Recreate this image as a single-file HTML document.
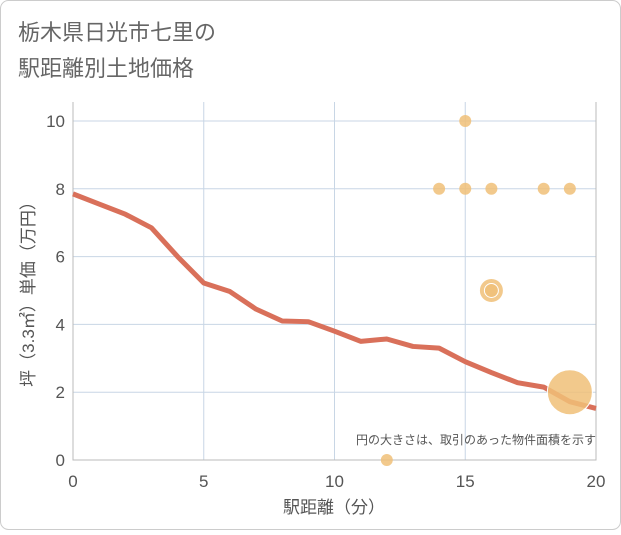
<!DOCTYPE html>
<html><head><meta charset="utf-8"><style>
body{margin:0;background:#fff;font-family:"Liberation Sans","Noto Sans CJK JP",sans-serif}
svg text{font-family:"Liberation Sans","Noto Sans CJK JP",sans-serif}
</style></head><body>
<svg id="c" width="621" height="530" xmlns="http://www.w3.org/2000/svg">
<rect x="0.5" y="0.5" width="620" height="529" rx="8" fill="#fff" stroke="#ccc"/>
<text x="18" y="40" font-size="22" fill="#666">栃木県日光市七里の</text>
<text x="18" y="76" font-size="22" fill="#666">駅距離別土地価格</text>
<g id="grid"></g>
<g id="marks"></g>
<text x="596" y="444" font-size="12" fill="#555" text-anchor="end">円の大きさは、取引のあった物件面積を示す</text>
<text x="334" y="513" font-size="17" fill="#555" text-anchor="middle">駅距離（分）</text>
<text transform="translate(34,290) rotate(-90)" font-size="17" fill="#555" text-anchor="middle">坪（3.3㎡）単価（万円）</text>
</svg>
<script>
const xTicks=[0,5,10,15,20];
const yTicks=[0,2,4,6,8,10];
const lineX=[0,1,2,3,4,5,6,7,8,9,10,11,12,13,14,15,16,17,18,19,20];
const lineY=[7.85,7.55,7.25,6.85,6.0,5.22,4.97,4.45,4.1,4.08,3.8,3.5,3.57,3.35,3.3,2.9,2.58,2.28,2.15,1.72,1.52];
const dotX=[15,14,15,16,18,19,16,16,19,12];
const dotY=[10,8,8,8,8,8,5,5,2,0];
const dotR=[6,6,6,6,6,6,12,7,22.5,6];
const NS="http://www.w3.org/2000/svg";
const L=73,R=596,T=102,B=460;
const sx=v=>L+(v-0)/(20-0)*(R-L);
const sy=v=>B-(v-0)*33.9;
const grid=document.getElementById('grid'),marks=document.getElementById('marks');
function mk(tag,at,parent){const e=document.createElementNS(NS,tag);for(const k in at)e.setAttribute(k,at[k]);parent.appendChild(e);return e;}
xTicks.forEach(t=>{
 const l=mk('line',{x1:sx(t),x2:sx(t),y1:T,y2:B,stroke:'#c8d6e5','stroke-width':1},grid);
 
 
 const tx=mk('text',{x:sx(t),y:B+27,'font-size':17,fill:'#555','text-anchor':'middle'},grid);
 tx.textContent=t;
 
 
});
yTicks.forEach(t=>{
 const l=mk('line',{x1:L,x2:R,y1:sy(t),y2:sy(t),stroke:'#c8d6e5','stroke-width':1},grid);
 
 
 const tx=mk('text',{x:L-8,y:sy(t)+6,'font-size':17,fill:'#555','text-anchor':'end'},grid);
 tx.textContent=t;
 
 
});
const ax=mk('polyline',{points:`${L},${T} ${L},${B} ${R},${B} ${R},${T}`,fill:'none',stroke:'#bbb','stroke-width':1},grid);


const pl=mk('polyline',{points:lineX.map((x,i)=>sx(x)+','+sy(lineY[i])).join(' '),fill:'none',stroke:'#d9705a','stroke-width':5,'stroke-linejoin':'round'},marks);


dotX.forEach((x,i)=>{
 const c=mk('circle',{cx:sx(x),cy:sy(dotY[i]),r:dotR[i],fill:'#f0c078','fill-opacity':0.85,stroke:'#fff','stroke-width':dotR[i]>6?1:0},marks);
 
 
});
</script>
</body></html>
